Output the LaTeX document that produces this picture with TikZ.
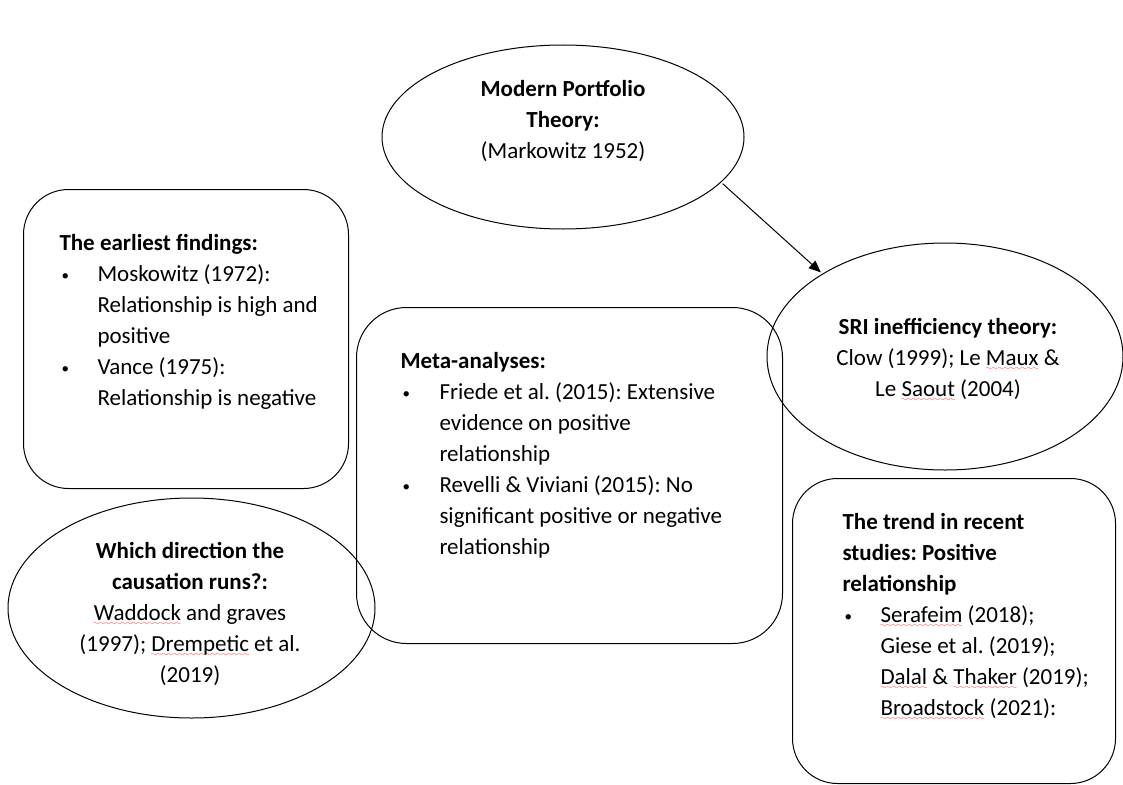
\documentclass[tikz,border=0pt]{standalone}
\usepackage{fontspec}
\setmainfont{Carlito}
\usetikzlibrary{shapes.geometric,arrows.meta}
\font\wavefnt=lasy10 at 8pt
\newsavebox\sqbox
\newcommand\sqw[1]{\sbox\sqbox{#1}\rlap{\raisebox{-5pt}[0pt][0pt]{\textcolor{red}{\xleaders\hbox{\wavefnt\char58}\hskip\wd\sqbox}}}\usebox\sqbox}
\newcommand\blt[1]{\makebox[#1][l]{\hspace{2pt}\raisebox{1pt}{\fontsize{15}{15}\selectfont •}}}
\newcommand\ind[1]{\hspace*{#1}}
\frenchspacing
\begin{document}
\begin{tikzpicture}[x=1pt,y=-1pt,line width=1pt,
  font=\fontsize{23}{31}\selectfont,
  box/.style={draw, rounded corners=45pt, inner sep=0pt, anchor=north west},
  oval/.style={draw, ellipse, inner sep=0pt},
  txt/.style={inner sep=0pt, align=left, anchor=west},
  ctxt/.style={inner sep=0pt, align=center},
  link/.style={-{Triangle[length=12pt,width=10pt]}, line width=1pt, shorten >=2pt, shorten <=2pt}]
\useasboundingbox (0,0) rectangle (1123,784);

% shapes
\node[oval, minimum width=362pt, minimum height=184pt] (mpt) at (563,137) {};
\node[oval, minimum width=356pt, minimum height=227pt] (sri) at (945,356.5) {};
\node[oval, minimum width=367pt, minimum height=220pt] (dir) at (191.5,608) {};
\node[box, minimum width=325pt, minimum height=299pt] (early) at (23,189) {};
\node[box, rounded corners=50pt, minimum width=426pt, minimum height=336pt] (meta) at (356,307) {};
\node[box, minimum width=323pt, minimum height=305pt] (trend) at (792,478) {};

% texts
\node[ctxt] (mptt) at (563,121) {\textbf{Modern Portfolio}\\\textbf{Theory:}\\(Markowitz 1952)};
\node[ctxt] (srit) at (948,359) {\textbf{SRI inefficiency theory:}\\Clow (1999); Le \sqw{Maux} \&\\Le \sqw{Saout} (2004)};
\node[ctxt] (dirt) at (190,614) {\textbf{Which direction the}\\\textbf{causation runs?:}\\\sqw{Waddock} and graves\\(1997); \sqw{Drempetic} et al.\\(2019)};
\node[txt] (earlyt) at (59,322) {\textbf{The earliest findings:}\\
\blt{38pt}Moskowitz (1972):\\
\ind{38pt}Relationship is high and\\
\ind{38pt}positive\\
\blt{38pt}Vance (1975):\\
\ind{38pt}Relationship is negative};
\node[txt] (metat) at (400,455) {\textbf{Meta-analyses:}\\
\blt{39pt}Friede et al. (2015): Extensive\\
\ind{39pt}evidence on positive\\
\ind{39pt}relationship\\
\blt{39pt}Revelli \& Viviani (2015): No\\
\ind{39pt}significant positive or negative\\
\ind{39pt}relationship};
\node[txt] (trendt) at (842,616) {\textbf{The trend in recent}\\
\textbf{studies: Positive}\\
\textbf{relationship}\\
\blt{38pt}\sqw{Serafeim} (2018);\\
\ind{38pt}Giese et al. (2019);\\
\ind{38pt}\sqw{Dalal} \& \sqw{Thaker} (2019);\\
\ind{38pt}\sqw{Broadstock} (2021):};

% connector
\draw[link] (mpt.-16) -- (sri.146);
\end{tikzpicture}
\end{document}
